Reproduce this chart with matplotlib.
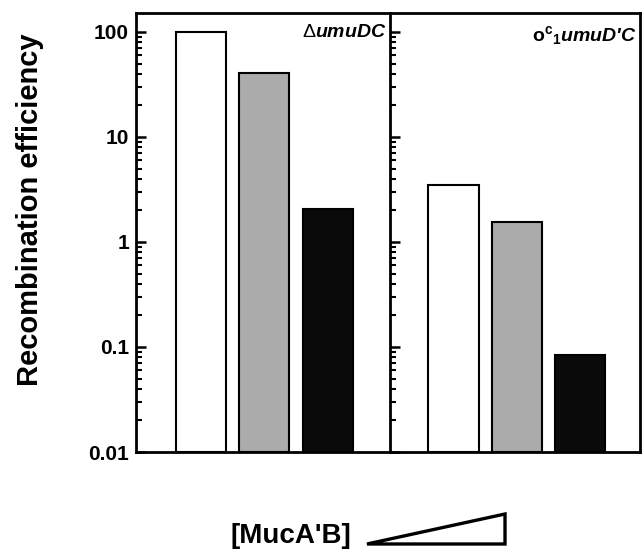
import matplotlib
matplotlib.use("Agg")
import matplotlib.pyplot as plt
from matplotlib.patches import Polygon
from matplotlib.ticker import LogLocator, NullFormatter, FixedLocator, FixedFormatter

plt.rcParams['font.family'] = ['Liberation Sans', 'DejaVu Sans']
plt.rcParams['mathtext.fontset'] = 'custom'
plt.rcParams['mathtext.rm'] = 'Liberation Sans:bold'
plt.rcParams['mathtext.bf'] = 'Liberation Sans:bold'
plt.rcParams['mathtext.it'] = 'Liberation Sans:italic:bold'
plt.rcParams['mathtext.sf'] = 'Liberation Sans'

# Data
conditions = ["low", "mid", "high"]
umuDC_values = [100, 40.5, 2.05]
ocumuDC_values = [3.5, 1.56, 0.084]
bar_colors = ["white", "#ababab", "#0a0a0a"]
ytick_values = [0.01, 0.1, 1, 10, 100]
ytick_labels = ["0.01", "0.1", "1", "10", "100"]
panel_titles = [r"$\mathsf{\Delta}$" + "umuDC",
                r"$\mathrm{o^c{}_1}$" + "umuD'C"]

W, H = 642, 551
fig = plt.figure(figsize=(W / 100, H / 100), dpi=100)

def fx(px):
    return px / W

def fy(py):
    return 1 - py / H

ybot, ytop = 0.01, 151.6
axL = fig.add_axes([fx(136), fy(452), fx(390) - fx(136), fy(13) - fy(452)])
axR = fig.add_axes([fx(390), fy(452), fx(640) - fx(390), fy(13) - fy(452)])

xs = list(range(len(conditions)))
for ax, vals, xl in [(axL, umuDC_values, (-1.02, 2.98)), (axR, ocumuDC_values, (-1.0, 2.94))]:
    ax.set_yscale('log')
    ax.bar(xs, [v - ybot for v in vals], bottom=ybot, width=0.79,
           color=bar_colors, edgecolor='black', linewidth=1.5, zorder=2)
    ax.set_ylim(ybot, ytop)
    ax.set_xlim(*xl)
    ax.set_xticks([])
    for s in ax.spines.values():
        s.set_linewidth(2.0)
    ax.yaxis.set_major_locator(FixedLocator(ytick_values))
    ax.yaxis.set_minor_locator(LogLocator(base=10, subs=range(2, 10)))
    ax.yaxis.set_minor_formatter(NullFormatter())
    ax.tick_params(axis='y', which='major', direction='in', length=7, width=1.8, pad=5)
    ax.tick_params(axis='y', which='minor', direction='in', length=4, width=1.5)

axL.yaxis.set_major_formatter(FixedFormatter(ytick_labels))
for lab in axL.get_yticklabels():
    lab.set_fontweight('bold')
    lab.set_fontsize(15)
axL.spines['right'].set_visible(False)
axR.yaxis.set_major_formatter(NullFormatter())

axL.text(0.985, 0.975, panel_titles[0], transform=axL.transAxes, ha='right', va='top',
         fontsize=14, fontweight='bold', fontstyle='italic')
axR.text(0.985, 0.975, panel_titles[1], transform=axR.transAxes, ha='right', va='top',
         fontsize=14, fontweight='bold', fontstyle='italic')

fig.text(fx(30), fy(210), "Recombination efficiency", rotation=90, ha='center', va='center',
         fontsize=21, fontweight='bold')

fig.text(fx(351), fy(536), "[MucA'B]", ha='right', va='center', fontsize=20, fontweight='bold')
tri = Polygon([(fx(367), fy(544)), (fx(505), fy(544)), (fx(505), fy(514))], closed=True,
              fill=False, edgecolor='black', linewidth=2.4, joinstyle='miter',
              transform=fig.transFigure)
fig.add_artist(tri)

fig.savefig("out.png", dpi=100)
